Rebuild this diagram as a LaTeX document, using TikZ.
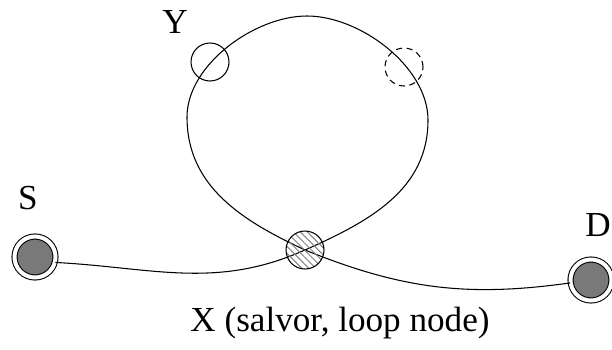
\documentclass[tikz,border=0pt]{standalone}
\usepackage{fontspec}
\setmainfont{Liberation Serif}
\usetikzlibrary{positioning, patterns.meta}

\begin{document}
\begin{tikzpicture}[
  x=0.02cm, y=0.02cm, line width=0.6pt,
  endpt/.style={draw, circle, fill=gray!95!black, double, double distance=0.08cm, minimum size=0.82cm, inner sep=0pt},
  salvor/.style={draw, circle, minimum size=0.76cm, inner sep=0pt, pattern={Lines[angle=-45, distance=2.8pt, line width=0.55pt]}, pattern color=gray},
  relay/.style={draw, circle, minimum size=0.76cm, inner sep=0pt},
  relaydash/.style={relay, dash pattern=on 3.5pt off 2.5pt},
  lbl/.style={font=\fontsize{20}{24}\selectfont, inner sep=0pt}
]
\useasboundingbox (0,0) rectangle (612,349);

\node[endpt] (S) at (35,92) {};
\node[endpt] (D) at (591,69) {};
\coordinate (X0) at (305,99);
\coordinate (rgt) at (428,229);
\coordinate (top) at (307,333);
\coordinate (lft) at (187,232);

% route through the loop
\draw (S.-15) to[out=-3, in=204] (X0)
  to[out=24, in=270] (rgt)
  to[out=90, in=0, looseness=0.85] (top)
  to[out=180, in=90, looseness=0.85] (lft)
  to[out=270, in=155] (X0)
  to[out=-22, in=188] (D);

\node[salvor] (X) at (X0) {};
\node[relay] (Y) at (210,287) {};
\node[relaydash] (Z) at (404,282) {};

\node[lbl] (lblS) at (28,151) {S};
\node[lbl] (lblD) at (598,124) {D};
\node[lbl] (lblY) at (175,327) {Y};
\node[lbl] (lblX) at (340,26) {X (salvor, loop node)};
\end{tikzpicture}
\end{document}
